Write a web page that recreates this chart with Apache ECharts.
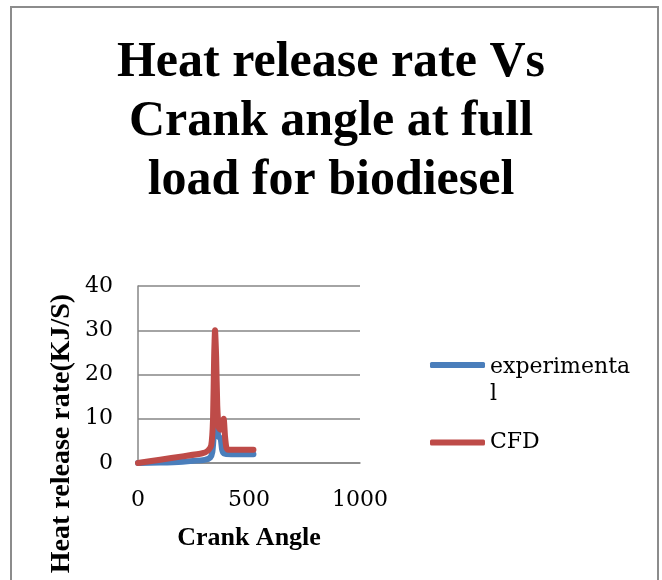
<!DOCTYPE html>
<html>
<head>
<meta charset="utf-8">
<script src="https://cdn.jsdelivr.net/npm/echarts@6/dist/echarts.min.js"></script>
<style>
  html, body { margin: 0; padding: 0; background: #fff; }
  #main { width: 662px; height: 580px; }
</style>
</head>
<body>
<div id="main"></div>
<script>
  // data
  var seriesNames = ['experimental', 'CFD'];
  var experimental = [
    [0, 0], [100, 0.1], [200, 0.3], [300, 0.7], [325, 1.2], [335, 2.5],
    [342, 7], [350, 14], [356, 9], [362, 6], [372, 5.6],
    [379, 3], [386, 2.2], [420, 2], [480, 2], [520, 2]
  ];
  var cfd = [
    [0, 0], [100, 0.75], [200, 1.5], [290, 2.2], [315, 2.8], [330, 4],
    [338, 10], [343, 24], [347, 30], [352, 24], [357, 13], [364, 8], [372, 7.5],
    [380, 8], [386, 10], [392, 6], [398, 3.5], [405, 3], [450, 3], [520, 3]
  ];
  var xTicks = [0, 500, 1000];
  var yTicks = [0, 10, 20, 30, 40];

  var serif = '"DejaVu Serif", serif';
  var serifBold = '"Liberation Serif", serif';

  var myChart = echarts.init(document.getElementById('main'));
  myChart.setOption({
    backgroundColor: '#ffffff',
    animation: false,
    title: {
      text: 'Heat release rate Vs\nCrank angle at full\nload for biodiesel',
      left: 'center',
      top: 29,
      textStyle: {
        fontFamily: serifBold,
        fontWeight: 'bold',
        fontSize: 50,
        lineHeight: 59,
        color: '#000'
      }
    },
    graphic: [{
      type: 'rect',
      shape: { x: 11, y: 7, width: 647, height: 620 },
      style: { fill: 'none', stroke: '#8c8c8c', lineWidth: 2 },
      silent: true
    }],
    legend: [{
      data: [seriesNames[0]],
      orient: 'vertical',
      left: 430,
      top: 327,
      padding: 0,
      itemWidth: 55,
      itemHeight: 6,
      icon: 'roundRect',
      // wrap like the original, first line level with the line sample
      formatter: function (name) { return '{s| }\n{t|experimenta}\n{t|l}'; },
      textStyle: {
        fontFamily: serif, fontSize: 22, color: '#000',
        rich: {
          s: { fontSize: 22, lineHeight: 32 },
          t: { fontFamily: serif, fontSize: 22, lineHeight: 27, color: '#000' }
        }
      }
    }, {
      data: [seriesNames[1]],
      orient: 'vertical',
      left: 430,
      top: 429,
      padding: 0,
      itemWidth: 55,
      itemHeight: 6,
      icon: 'roundRect',
      textStyle: { fontFamily: serif, fontSize: 22, lineHeight: 27, color: '#000' }
    }],
    grid: {
      left: 138,
      right: 302,
      top: 286,
      bottom: 117
    },
    xAxis: {
      type: 'value',
      min: xTicks[0],
      max: xTicks[xTicks.length - 1],
      interval: 500,
      name: 'Crank Angle',
      nameLocation: 'middle',
      nameGap: 62,
      nameTextStyle: { fontFamily: serifBold, fontWeight: 'bold', fontSize: 26, color: '#000' },
      axisLine: { show: true, lineStyle: { color: '#868686', width: 1.5 } },
      axisTick: { show: false },
      splitLine: { show: false },
      axisLabel: {
        fontFamily: serif, fontSize: 22, color: '#000', margin: 26,
        formatter: function (v) { return String(v); }
      }
    },
    yAxis: {
      type: 'value',
      min: yTicks[0],
      max: yTicks[yTicks.length - 1],
      interval: 10,
      name: 'Heat release rate(KJ/S)',
      nameLocation: 'middle',
      nameGap: 62,
      nameTextStyle: { fontFamily: serifBold, fontWeight: 'bold', fontSize: 28, color: '#000', padding: [0, 118, 0, 0] },
      axisLine: { show: true, lineStyle: { color: '#868686', width: 1.5 } },
      axisTick: { show: false },
      splitLine: { show: true, lineStyle: { color: '#868686', width: 1.5 } },
      axisLabel: { fontFamily: serif, fontSize: 22, color: '#000', margin: 25 }
    },
    series: [{
      name: seriesNames[0],
      type: 'line',
      data: experimental,
      showSymbol: false,
      smooth: 0.2,
      color: '#4a7ebb',
      lineStyle: { width: 6, cap: 'round', join: 'round' }
    }, {
      name: seriesNames[1],
      type: 'line',
      data: cfd,
      showSymbol: false,
      smooth: 0.2,
      color: '#be4b48',
      lineStyle: { width: 6, cap: 'round', join: 'round' }
    }]
  });
</script>
</body>
</html>
